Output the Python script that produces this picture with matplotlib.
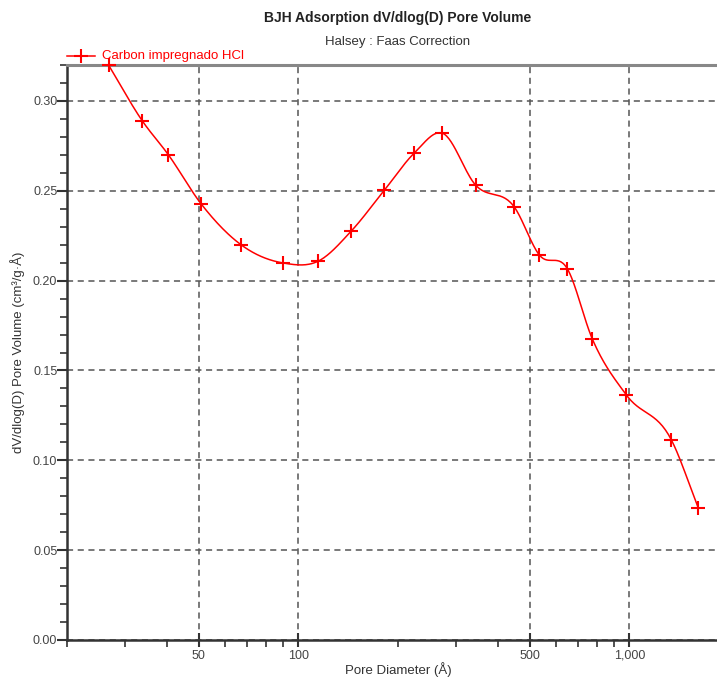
import numpy as np
import matplotlib
matplotlib.use("Agg")
import matplotlib.pyplot as plt
from matplotlib.ticker import FixedLocator, FixedFormatter, MultipleLocator

plt.rcParams['font.family'] = ['Liberation Sans', 'DejaVu Sans']

# pore diameter (A) and dV/dlog(D) pore volume (cm3/g.A)
diametro = [26.7, 33.8, 40.5, 50.9, 67.3, 90.1, 115, 144.5, 182, 224, 272,
            343, 449, 535, 650, 773, 980, 1340, 1615]
volumen = [0.320, 0.2888, 0.270, 0.2426, 0.2198, 0.2098, 0.2109, 0.2276,
           0.2504, 0.271, 0.2821, 0.2532, 0.241, 0.2142, 0.2065, 0.1675,
           0.1363, 0.1113, 0.0735]

x_ticks = [50, 100, 500, 1000]
x_labels = ["50", "100", "500", "1,000"]
etiqueta = "Carbon impregnado HCl"


def suavizar(x, y, n=30):
    # curva suave tipo Catmull-Rom en escala log para dibujar la linea
    lx = np.log10(np.asarray(x, dtype=float))
    y = np.asarray(y, dtype=float)
    m = np.gradient(y, lx)
    xs, ys = [], []
    for i in range(len(lx) - 1):
        h = lx[i + 1] - lx[i]
        t = np.linspace(0, 1, n, endpoint=False)
        h00 = 2 * t**3 - 3 * t**2 + 1
        h10 = t**3 - 2 * t**2 + t
        h01 = -2 * t**3 + 3 * t**2
        h11 = t**3 - t**2
        xs.append(lx[i] + t * h)
        ys.append(h00 * y[i] + h10 * h * m[i] + h01 * y[i + 1] + h11 * h * m[i + 1])
    xs.append([lx[-1]])
    ys.append([y[-1]])
    return 10 ** np.concatenate(xs), np.concatenate(ys)


fig = plt.figure(figsize=(7.17, 6.77), dpi=100)
ax = fig.add_axes([67 / 717, 1 - 640 / 677, 662 / 717, 575 / 677])
ax.set_xscale("log")
ax.set_xlim(20, 2000)
ax.set_ylim(0, 0.32)

gris = "#555555"
ax.grid(True, which="major", linestyle=(0, (4, 3)), color=gris, linewidth=1.1)

xs, ys = suavizar(diametro, volumen)
ax.plot(xs, ys, color="red", linewidth=1.1, clip_on=False, zorder=3)
ax.plot(diametro, volumen, linestyle="none", marker="+", markersize=10,
        markeredgewidth=1.5, color="red", clip_on=False, zorder=4)

ax.xaxis.set_major_locator(FixedLocator(x_ticks))
ax.xaxis.set_major_formatter(FixedFormatter(x_labels))
menores = [20, 30, 40, 60, 70, 80, 90, 200, 300, 400, 600, 700, 800, 900]
ax.xaxis.set_minor_locator(FixedLocator(menores))
ax.xaxis.set_minor_formatter(FixedFormatter([""] * len(menores)))
ax.yaxis.set_major_locator(MultipleLocator(0.05))
ax.yaxis.set_minor_locator(MultipleLocator(0.01))
ax.yaxis.set_major_formatter(plt.FuncFormatter(lambda v, p: "%.2f" % v))

ax.tick_params(axis="x", which="major", direction="inout", length=10, width=1.5,
               colors="#333333", labelsize=9, labelcolor="#444444", pad=2)
ax.tick_params(axis="x", which="minor", direction="out", length=5, width=1.2,
               colors="#333333")
ax.tick_params(axis="y", which="major", direction="out", length=7, width=1.5,
               colors="#333333", labelsize=9, labelcolor="#444444", pad=0)
ax.tick_params(axis="y", which="minor", direction="out", length=5, width=1.2,
               colors="#333333")

ax.spines["right"].set_visible(False)
ax.spines["left"].set_linewidth(1.8)
ax.spines["left"].set_color("#333333")
ax.spines["bottom"].set_linewidth(1.8)
ax.spines["bottom"].set_color("#333333")
ax.spines["top"].set_linewidth(2.2)
ax.spines["top"].set_color("#888888")

ax.set_xlabel("Pore Diameter (Å)", fontsize=9.5, color="#333333", labelpad=0)
ax.set_ylabel("dV/dlog(D) Pore Volume (cm³/g·Å)", fontsize=9.5, color="#333333",
              labelpad=6)

fig.text(398 / 717, 1 - 18 / 677, "BJH Adsorption dV/dlog(D) Pore Volume",
         ha="center", va="center", fontsize=10, fontweight="bold", color="#222222")
fig.text(398 / 717, 1 - 42 / 677, "Halsey : Faas Correction",
         ha="center", va="center", fontsize=9.5, color="#333333")

# leyenda encima del eje
fig.lines.append(plt.Line2D([67 / 717, 95 / 717], [1 - 56 / 677, 1 - 56 / 677],
                            color="red", linewidth=1.1, transform=fig.transFigure))
fig.lines.append(plt.Line2D([81 / 717], [1 - 56 / 677], marker="+", markersize=10,
                            markeredgewidth=1.5, color="red",
                            transform=fig.transFigure))
fig.text(102 / 717, 1 - 56 / 677, etiqueta, ha="left", va="center",
         fontsize=9.5, color="red")

fig.savefig("out.png", dpi=100)
